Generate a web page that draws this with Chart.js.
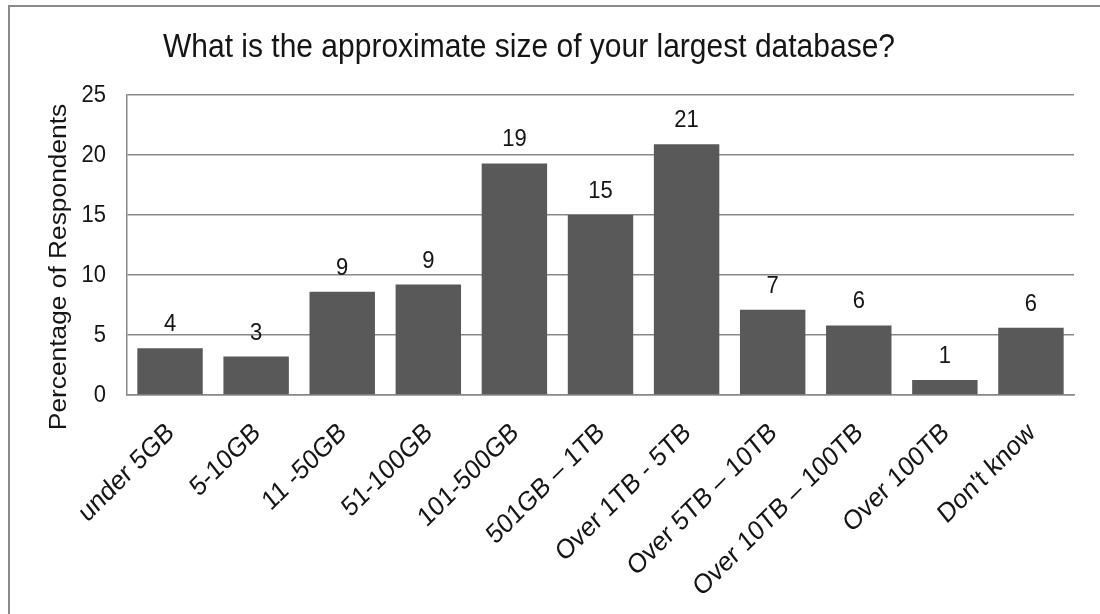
<!DOCTYPE html>
<html>
<head>
<meta charset="utf-8">
<script src="https://cdn.jsdelivr.net/npm/chart.js@4.4.1/dist/chart.umd.min.js"></script>
<style>
  html, body { margin: 0; padding: 0; background: #ffffff; }
  #wrap { position: relative; width: 1100px; height: 614px; overflow: hidden; }
  #frame { position: absolute; left: 8px; top: 5px; right: 0; bottom: -4px;
           border-top: 2px solid #8a8a8a; border-left: 2px solid #8a8a8a; pointer-events: none; }
  canvas { position: absolute; left: 0; top: 0; }
</style>
</head>
<body>
<div id="wrap">
  <canvas id="chart" width="1100" height="614"></canvas>
  <div id="frame"></div>
</div>
<script>
// Survey answers: size of the largest database
const categories = [
  'under 5GB', '5-10GB', '11 -50GB', '51-100GB', '101-500GB', '501GB \u2013 1TB',
  'Over 1TB - 5TB', 'Over 5TB \u2013 10TB', 'Over 10TB \u2013 100TB', 'Over 100TB', "Don't know"
];
// Percentage of respondents per answer
const percentages = [3.9, 3.2, 8.6, 9.2, 19.3, 15.0, 20.9, 7.1, 5.8, 1.25, 5.6];
// Y axis ticks
const yTicks = [0, 5, 10, 15, 20, 25];

const chartTitle = 'What is the approximate size of your largest database?';
const yAxisTitle = 'Percentage of Respondents';

const FONT = '"Liberation Sans", Arial, sans-serif';
const TEXT = '#151515';
// all lettering is drawn slightly tall and narrow
const STRETCH = 1.12;

function drawText(ctx, str, x, y, size, align, baseline, angle) {
  ctx.save();
  ctx.translate(x, y);
  ctx.scale(1, STRETCH);
  if (angle) ctx.rotate(angle);
  ctx.font = size + 'px ' + FONT;
  ctx.textAlign = align;
  ctx.textBaseline = baseline;
  ctx.fillText(str, 0, 0);
  ctx.restore();
}

// Draws heading, axis lettering and the value over each bar
const textPlugin = {
  id: 'textPlugin',
  afterDraw(chart) {
    const ctx = chart.ctx;
    const xs = chart.scales.x;
    const ys = chart.scales.y;
    ctx.save();
    ctx.fillStyle = TEXT;

    // heading
    drawText(ctx, chartTitle, 529, 57, 30, 'center', 'alphabetic', 0);

    // y axis title
    drawText(ctx, yAxisTitle, 66, 267, 23.5, 'center', 'alphabetic', -Math.PI / 2);

    // y tick labels
    ys.ticks.forEach(t => {
      drawText(ctx, String(t.value), ys.right - 21, ys.getPixelForValue(t.value), 22, 'right', 'middle', 0);
    });

    // x tick labels, slanted
    const slant = -Math.atan(1 / STRETCH);
    categories.forEach((c, i) => {
      drawText(ctx, c, xs.getPixelForValue(i) + 1, xs.top + 34, 24.5, 'right', 'middle', slant);
    });

    // value labels
    const meta = chart.getDatasetMeta(0);
    meta.data.forEach((bar, i) => {
      const v = chart.data.datasets[0].data[i];
      drawText(ctx, String(Math.round(v)), bar.x, bar.y - 17, 22, 'center', 'alphabetic', 0);
    });
    ctx.restore();
  }
};

new Chart(document.getElementById('chart'), {
  type: 'bar',
  data: {
    labels: categories,
    datasets: [{
      data: percentages,
      backgroundColor: '#595959',
      borderWidth: 0,
      barPercentage: 0.76,
      categoryPercentage: 1.0
    }]
  },
  options: {
    responsive: false,
    animation: false,
    devicePixelRatio: 1,
    layout: { padding: { top: 95, right: 26, left: 0, bottom: 0 } },
    plugins: {
      legend: { display: false },
      title: { display: false },
      tooltip: { enabled: false }
    },
    scales: {
      x: {
        grid: { display: false, drawTicks: false },
        border: { display: true, color: '#888888', width: 1.5 },
        ticks: { display: false, autoSkip: false },
        afterFit(scale) { scale.height = 219; }
      },
      y: {
        min: 0,
        max: 25,
        afterBuildTicks(scale) { scale.ticks = yTicks.map(v => ({ value: v })); },
        grid: { color: '#888888', lineWidth: 1.5, drawTicks: false },
        border: { display: true, color: '#888888', width: 1.5 },
        ticks: { display: false },
        afterFit(scale) { scale.width = 127; }
      }
    }
  },
  plugins: [textPlugin]
});
</script>
</body>
</html>
